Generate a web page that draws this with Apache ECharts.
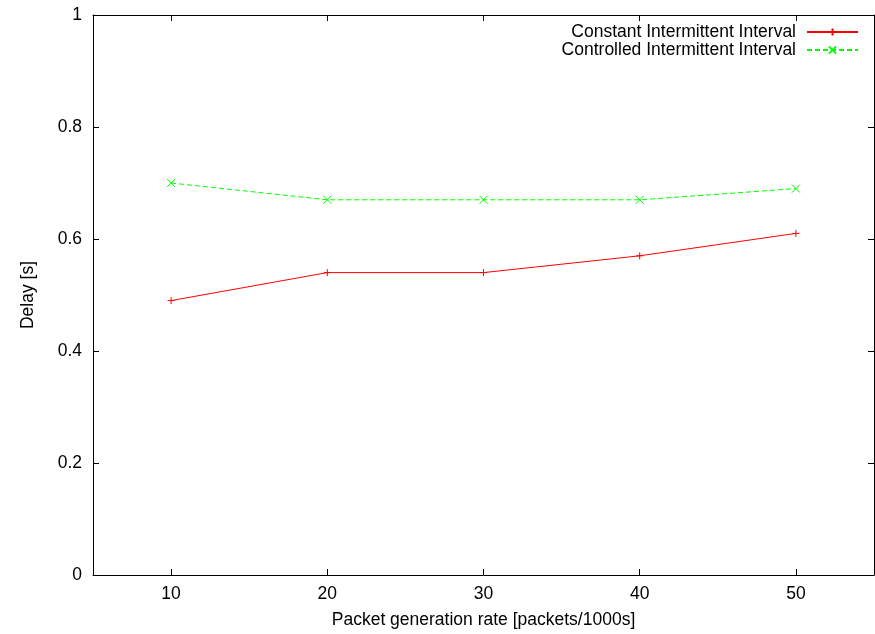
<!DOCTYPE html>
<html>
<head>
<meta charset="utf-8">
<script src="https://cdn.jsdelivr.net/npm/echarts@6/dist/echarts.min.js"></script>
<style>html,body{margin:0;padding:0;background:#fff}#c{width:875px;height:634px}</style>
</head>
<body>
<div id="c"></div>
<script>
const rates = [10, 20, 30, 40, 50];
const constantDelay = [0.49, 0.54, 0.54, 0.57, 0.61];
const controlledDelay = [0.70, 0.67, 0.67, 0.67, 0.69];
const xTicks = [10, 20, 30, 40, 50];
const seriesNames = ['Constant Intermittent Interval', 'Controlled Intermittent Interval'];

const font = 'Liberation Sans, Arial, Helvetica, sans-serif';
const fs = 17.5;
const chart = echarts.init(document.getElementById('c'), null, {renderer: 'canvas'});
const plus = 'path://M0,5 L10,5 M5,0 L5,10';
const cross = 'path://M0,0 L10,10 M10,0 L0,10';
const axisLine = {show: true, onZero: false, lineStyle: {color: '#000', width: 1}};
const tickIn = {show: true, inside: true, length: 6, lineStyle: {color: '#000'}};
chart.setOption({
  animation: false,
  textStyle: {fontFamily: font},
  grid: {left: 93, right: 1, top: 15, bottom: 59, outerBoundsMode: 'none', containLabel: false},
  legend: {
    orient: 'vertical', align: 'right', right: 16, top: 23, padding: 0,
    itemWidth: 51, itemHeight: 9, itemGap: 0,
    textStyle: {fontFamily: font, fontSize: fs, color: '#000', padding: [0, 6, 0, 0], lineHeight: 18},
    data: seriesNames
  },
  xAxis: [{
    type: 'value', min: 5, max: 55, position: 'bottom',
    name: 'Packet generation rate [packets/1000s]', nameLocation: 'middle', nameGap: 36,
    nameTextStyle: {fontFamily: font, fontSize: fs, color: '#000'},
    axisLine: axisLine,
    axisTick: Object.assign({customValues: xTicks}, tickIn),
    axisLabel: {customValues: xTicks, fontFamily: font, fontSize: fs, color: '#000', margin: 10},
    splitLine: {show: false}
  }, {
    type: 'value', min: 5, max: 55, position: 'top',
    axisLine: axisLine,
    axisTick: Object.assign({customValues: xTicks}, tickIn),
    axisLabel: {show: false},
    splitLine: {show: false}
  }],
  yAxis: [{
    type: 'value', min: 0, max: 1, interval: 0.2, position: 'left',
    name: 'Delay [s]', nameLocation: 'middle', nameGap: 56, nameRotate: 90,
    nameTextStyle: {fontFamily: font, fontSize: fs, color: '#000'},
    axisLine: axisLine, axisTick: tickIn,
    axisLabel: {fontFamily: font, fontSize: fs, color: '#000', margin: 11},
    splitLine: {show: false}
  }, {
    type: 'value', min: 0, max: 1, interval: 0.2, position: 'right',
    axisLine: axisLine, axisTick: tickIn,
    axisLabel: {show: false},
    splitLine: {show: false}
  }],
  series: [{
    name: seriesNames[0], type: 'line',
    data: rates.map((r, i) => [r, constantDelay[i]]),
    symbol: plus, symbolSize: 7,
    lineStyle: {color: '#ff0000', width: 1},
    itemStyle: {color: 'rgba(0,0,0,0)', borderColor: '#ff0000', borderWidth: 1},
    emphasis: {disabled: true}
  }, {
    name: seriesNames[1], type: 'line',
    data: rates.map((r, i) => [r, controlledDelay[i]]),
    symbol: cross, symbolSize: 8,
    lineStyle: {color: '#00ff00', width: 1, type: [5, 3]},
    itemStyle: {color: 'rgba(0,0,0,0)', borderColor: '#00ff00', borderWidth: 1},
    emphasis: {disabled: true}
  }]
});
</script>
</body>
</html>
